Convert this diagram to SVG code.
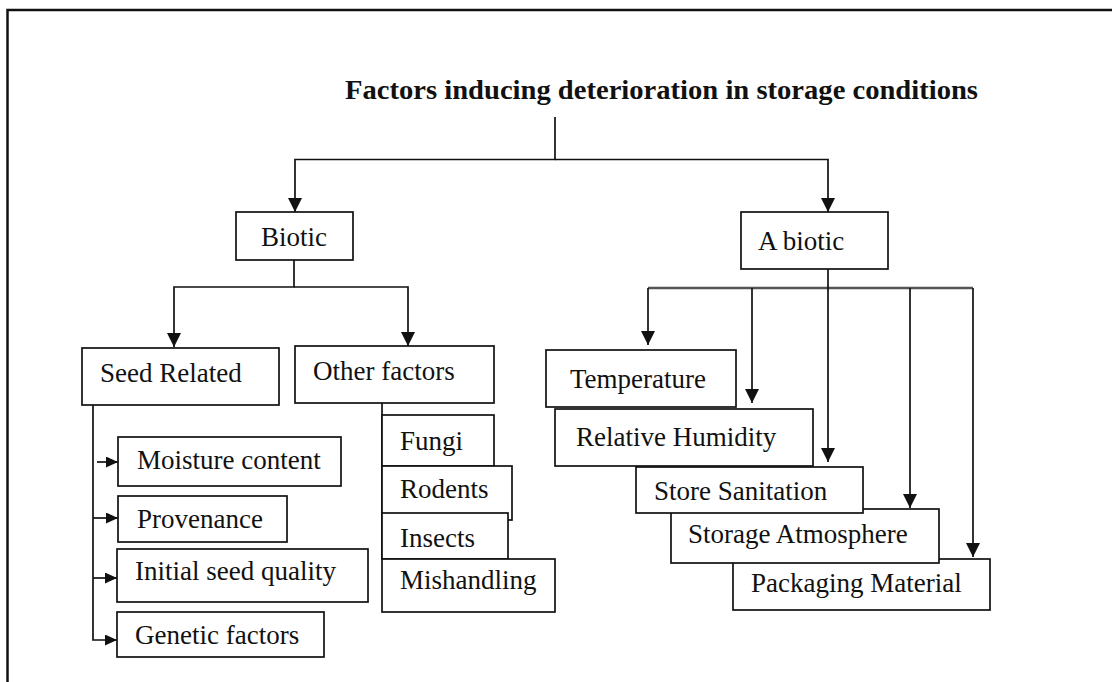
<svg xmlns="http://www.w3.org/2000/svg" width="1112" height="682" viewBox="0 0 1112 682">
<style>
.box{fill:#fff;stroke:#111;stroke-width:1.7}
.t{font-family:"Liberation Serif","Times New Roman",serif;font-size:27px;fill:#111}
.title{font-family:"Liberation Serif","Times New Roman",serif;font-size:28px;font-weight:bold;fill:#111}
.ln{fill:none;stroke:#111;stroke-width:1.7}
</style>
<defs>
<marker id="ah" viewBox="0 0 14 14" refX="14" refY="7" markerWidth="14" markerHeight="14" markerUnits="userSpaceOnUse" orient="auto"><path d="M0,0 L14,7 L0,14 z" fill="#111"/></marker>
<marker id="sh" viewBox="0 0 12 11" refX="12" refY="5.5" markerWidth="12" markerHeight="11" markerUnits="userSpaceOnUse" orient="auto"><path d="M0,0 L12,5.5 L0,11 z" fill="#111"/></marker>
</defs>
<rect width="1112" height="682" fill="#fff"/>
<path d="M7.5,682 V10 H1112" fill="none" stroke="#111" stroke-width="2.5"/>
<text id="title" class="title" x="345" y="99" textLength="633" lengthAdjust="spacingAndGlyphs">Factors inducing deterioration  in storage conditions</text>

<g id="connectors">
<path class="ln" d="M555,117 V159.5 H295 V212" marker-end="url(#ah)"/>
<path class="ln" d="M555,159.5 H828 V212" marker-end="url(#ah)"/>
<path class="ln" d="M294,260 V287 H174 V347" marker-end="url(#ah)"/>
<path class="ln" d="M294,287 H408 V346" marker-end="url(#ah)"/>
<path class="ln" d="M93,405 V640 H117" marker-end="url(#sh)"/>
<path class="ln" d="M97,462 H118" marker-end="url(#sh)"/>
<path class="ln" d="M93,518 H118" marker-end="url(#sh)"/>
<path class="ln" d="M93,578 H117" marker-end="url(#sh)"/>
<path class="ln" d="M382,403 V560"/>
<path d="M648,288 H973" fill="none" stroke="#555" stroke-width="2.4"/>
<path class="ln" d="M648,288 V345" marker-end="url(#ah)"/>
<path class="ln" d="M752,288 V403" marker-end="url(#ah)"/>
<path class="ln" d="M828,269 V462" marker-end="url(#ah)"/>
<path class="ln" d="M910,288 V508" marker-end="url(#ah)"/>
<path class="ln" d="M973,288 V557" marker-end="url(#ah)"/>
</g>

<g id="biotic"><rect class="box" x="236" y="212" width="117" height="48"/><text class="t" x="294" y="246" text-anchor="middle">Biotic</text></g>
<g id="abiotic"><rect class="box" x="741" y="212" width="147" height="57"/><text class="t" x="758" y="250">A biotic</text></g>

<g id="seed-related"><rect class="box" x="82" y="348" width="197" height="57"/><text class="t" x="100" y="382">Seed Related</text></g>
<g id="other-factors"><rect class="box" x="295" y="346" width="199" height="57"/><text class="t" x="313" y="380">Other factors</text></g>

<g id="moisture"><rect class="box" x="118" y="437" width="223" height="49"/><text class="t" x="137" y="469">Moisture content</text></g>
<g id="provenance"><rect class="box" x="118" y="496" width="169" height="46"/><text class="t" x="137" y="528">Provenance</text></g>
<g id="initial-quality"><rect class="box" x="117" y="549" width="251" height="53"/><text class="t" x="135" y="580">Initial seed quality</text></g>
<g id="genetic"><rect class="box" x="117" y="612" width="207" height="45"/><text class="t" x="135" y="644">Genetic factors</text></g>

<g id="fungi"><rect class="box" x="382" y="415" width="112" height="51"/><text class="t" x="400" y="450">Fungi</text></g>
<g id="rodents"><rect class="box" x="382" y="466" width="130" height="54"/><text class="t" x="400" y="498">Rodents</text></g>
<g id="insects"><rect class="box" x="382" y="513" width="126" height="46"/><text class="t" x="400" y="547">Insects</text></g>
<g id="mishandling"><rect class="box" x="382" y="559" width="173" height="53"/><text class="t" x="400" y="589">Mishandling</text></g>

<g id="packaging"><rect class="box" x="733" y="559" width="257" height="51"/><text class="t" x="751" y="592">Packaging Material</text></g>
<g id="atmosphere"><rect class="box" x="671" y="509" width="268" height="54"/><text class="t" x="688" y="543">Storage Atmosphere</text></g>
<g id="sanitation"><rect class="box" x="636" y="467" width="227" height="46"/><text class="t" x="654" y="500">Store Sanitation</text></g>
<g id="humidity"><rect class="box" x="555" y="409" width="258" height="57"/><text class="t" x="576" y="446">Relative Humidity</text></g>
<g id="temperature"><rect class="box" x="546" y="350" width="190" height="57"/><text class="t" x="570" y="388">Temperature</text></g>
</svg>
